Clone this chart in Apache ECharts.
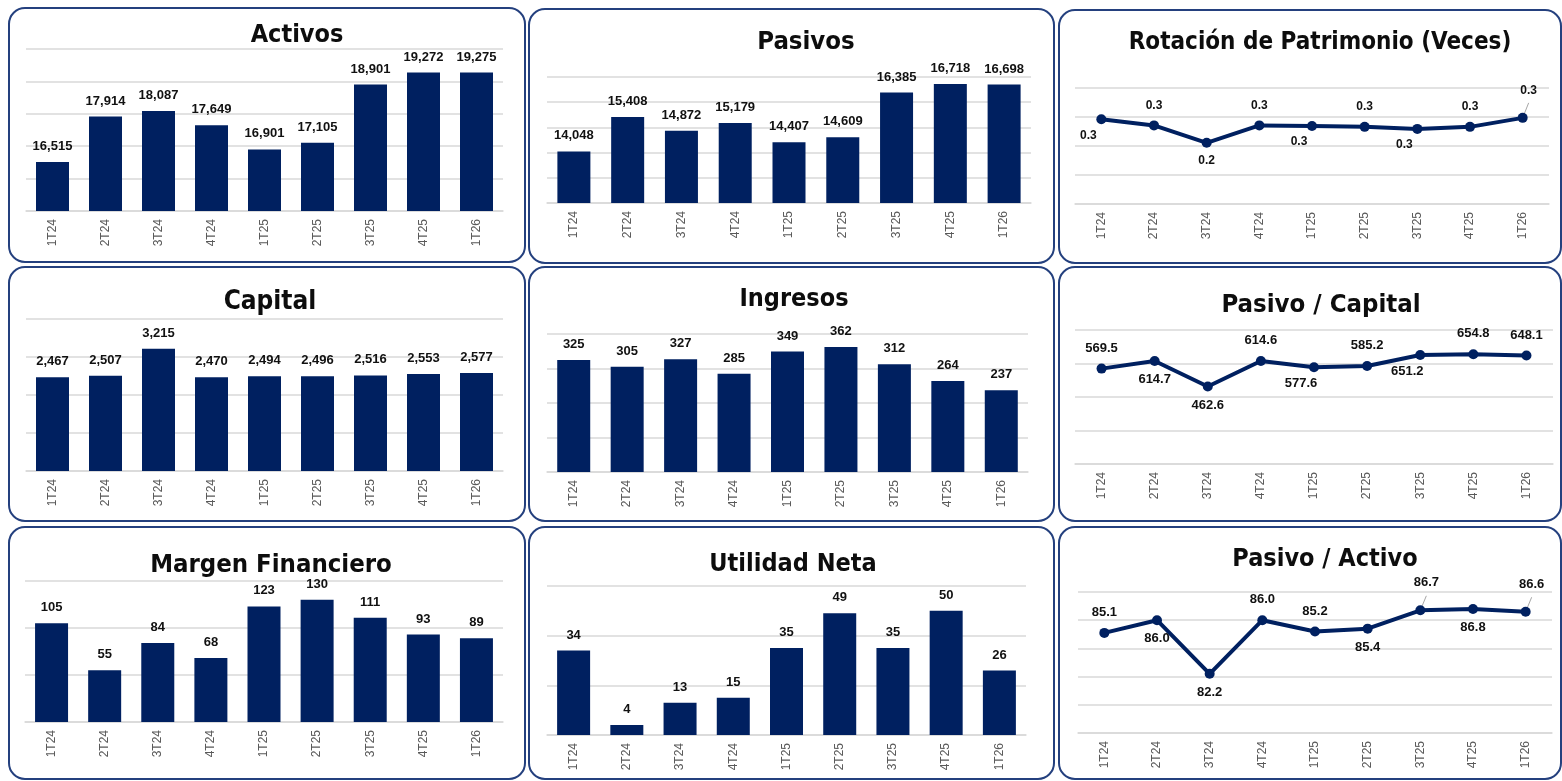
<!DOCTYPE html>
<html>
<head>
<meta charset="utf-8">
<script src="https://cdn.jsdelivr.net/npm/echarts@6/dist/echarts.min.js"></script>
<style>
html,body{margin:0;padding:0;background:#fff;}
#chart{width:1562px;height:781px;}
</style>
</head>
<body>
<div id="chart"></div>
<script>
// ---------------- DATA ----------------
const categories = ['1T24','2T24','3T24','4T24','1T25','2T25','3T25','4T25','1T26'];
const activos = [16515,17914,18087,17649,16901,17105,18901,19272,19275];
const pasivos = [14048,15408,14872,15179,14407,14609,16385,16718,16698];
const rotacionPatrimonio = [0.292,0.271,0.211,0.271,0.269,0.266,0.259,0.266,0.297];
const capital = [2467,2507,3215,2470,2494,2496,2516,2553,2577];
const ingresos = [325,305,327,285,349,362,312,264,237];
const pasivoCapital = [569.5,614.7,462.6,614.6,577.6,585.2,651.2,654.8,648.1];
const margenFinanciero = [105,55,84,68,123,130,111,93,89];
const utilidadNeta = [34,4,13,15,35,49,35,50,26];
const pasivoActivo = [85.1,86.0,82.2,86.0,85.2,85.4,86.7,86.8,86.6];

const titles = ['Activos','Pasivos','Rotación de Patrimonio (Veces)','Capital','Ingresos','Pasivo / Capital','Margen Financiero','Utilidad Neta','Pasivo / Activo'];

// ---------------- LAYOUT / STYLE ----------------
const NAVY = '#002060';
const BORDER = '#24407e';
const GRIDC = '#d9d9d9';
const LABEL_FONT = "'Liberation Sans', Arial, sans-serif";
const TITLE_FONT = "'Liberation Sans Narrow', 'DejaVu Sans Condensed', 'Arial Narrow', sans-serif";

const panels = [
  {x:9,y:8,w:516,h:254},{x:529,y:9,w:525,h:254},{x:1059,y:10,w:502,h:253},
  {x:9,y:267,w:516,h:254},{x:529,y:267,w:525,h:254},{x:1059,y:267,w:502,h:254},
  {x:9,y:527,w:516,h:252},{x:529,y:527,w:525,h:252},{x:1059,y:527,w:502,h:252}
];
// plot rectangles [left, right, top, bottom]
const plots = [
  [26,503,49,211],[547,1031,77,203],[1075,1549,88,204],
  [26,503,319,471],[547,1028,334,472],[1075,1553,330,464],
  [25,503,581,722],[547,1026,586,735],[1078,1552,592,733]
];
const titlePos = [[292,33],[801,40],[1315,41],[265,300],[789,297],[1316,303],[266,563],[788,562],[1320,557]];
const titleSize = [25,25.5,24,26,25,25.5,25.5,25,25];

const specs = [
  {type:'bar', data:activos, min:15000, max:20000, interval:1000, fmt:'int'},
  {type:'bar', data:pasivos, min:12000, max:17000, interval:1000, fmt:'int'},
  {type:'line', data:rotacionPatrimonio, min:0, max:0.4, interval:0.1, fmt:'d1',
   place:['bl','t','b','t','bl','t','bl','t','tr']},
  {type:'bar', data:capital, min:0, max:4000, interval:1000, fmt:'int'},
  {type:'bar', data:ingresos, min:0, max:400, interval:100, fmt:'int'},
  {type:'line', data:pasivoCapital, min:0, max:800, interval:200, fmt:'d1',
   place:['t','b','b','t','bl','t','bl','t','t']},
  {type:'bar', data:margenFinanciero, min:0, max:150, interval:50, fmt:'int'},
  {type:'bar', data:utilidadNeta, min:0, max:60, interval:20, fmt:'int'},
  {type:'line', data:pasivoActivo, min:78, max:88, interval:2, fmt:'d1',
   place:['t','b','b','t','t','b','tr','b','tr']}
];

function fmtVal(v, f){
  return f === 'int' ? Math.round(v).toLocaleString('en-US') : Number(v).toFixed(1);
}

const grid=[], xAxis=[], yAxis=[], series=[], title=[], graphic=[];

panels.forEach(p=>{
  graphic.push({type:'rect', shape:{x:p.x,y:p.y,width:p.w,height:p.h,r:16},
    style:{fill:'#fff',stroke:BORDER,lineWidth:2}, z:-10, silent:true});
});

specs.forEach((s,i)=>{
  const [l,r,t,b] = plots[i];
  grid.push({left:l, top:t, width:r-l, height:b-t, containLabel:false});
  title.push({text:titles[i], left:titlePos[i][0], top:titlePos[i][1]-titleSize[i]*0.62, textAlign:'center',
    textStyle:{fontFamily:TITLE_FONT, fontWeight:'bold', fontSize:titleSize[i], color:'#0d0d0d'}});
  xAxis.push({type:'category', gridIndex:i, data:categories, boundaryGap:true,
    axisLine:{show:true, lineStyle:{color:GRIDC, width:1.5}}, axisTick:{show:false},
    axisLabel:{rotate:90, color:'#595959', fontFamily:LABEL_FONT, fontSize:12, margin:8}});
  yAxis.push({type:'value', gridIndex:i, min:s.min, max:s.max, interval:s.interval,
    axisLabel:{show:false}, axisLine:{show:false}, axisTick:{show:false},
    splitLine:{show:true, lineStyle:{color:GRIDC, width:1.5}}});
  if(s.type==='bar'){
    series.push({type:'bar', xAxisIndex:i, yAxisIndex:i, data:s.data, barWidth:33,
      itemStyle:{color:NAVY}, animation:false,
      label:{show:true, position:'top', distance:9, fontFamily:LABEL_FONT, fontWeight:'bold', fontSize:13, color:'#111',
        formatter:(pr)=>fmtVal(pr.value, s.fmt)}});
  } else {
    const data = s.data.map((v,k)=>{
      const pl = s.place[k];
      let label;
      if(pl==='t') label={position:'top', distance:9};
      else if(pl==='b') label={position:'bottom', distance:7};
      else if(pl==='bl') label={position:'bottom', distance:5, offset:[-13,0]};
      else label={position:'top', distance:16, offset:[6,0]};
      const item={value:v, label:label};
      if(pl==='tr') item.labelLine={show:true};
      return item;
    });
    series.push({type:'line', xAxisIndex:i, yAxisIndex:i, data:data,
      lineStyle:{color:NAVY, width:4}, itemStyle:{color:NAVY}, symbol:'circle', symbolSize:10,
      animation:false,
      label:{show:true, fontFamily:LABEL_FONT, fontWeight:'bold', fontSize:i===2?12:13, color:'#111',
        formatter:(pr)=>fmtVal(pr.value, s.fmt)},
      labelLine:{show:false, lineStyle:{color:'#a6a6a6', width:1}}});
  }
});

const chart = echarts.init(document.getElementById('chart'), null, {renderer:'canvas'});
chart.setOption({animation:false, backgroundColor:'#fff', graphic:graphic, title:title, grid:grid, xAxis:xAxis, yAxis:yAxis, series:series});
</script>
</body>
</html>
